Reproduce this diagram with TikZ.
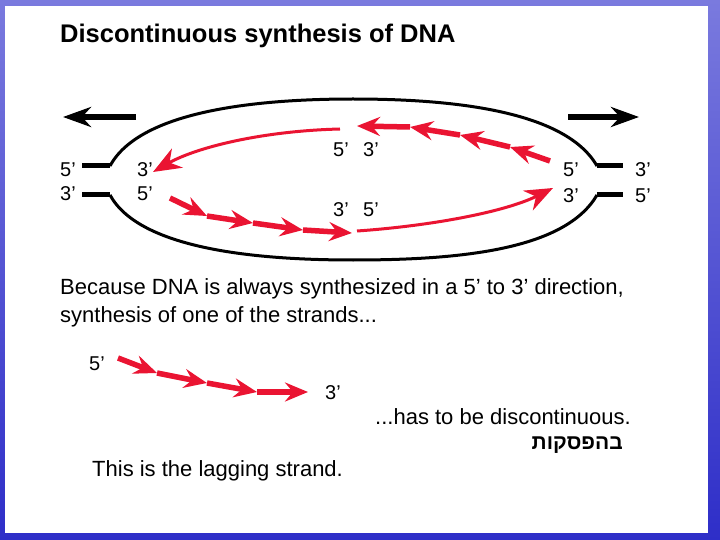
\documentclass[tikz,border=0pt]{standalone}
\usepackage{fontspec}
\setmainfont{Liberation Sans}
\newfontfamily\hebfont[Script=Hebrew]{Liberation Sans}
\TeXXeTstate=1
\usetikzlibrary{arrows.meta}
\definecolor{dnared}{RGB}{234,20,50}
\definecolor{frametop}{RGB}{122,122,222}
\definecolor{framebot}{RGB}{46,46,200}
\begin{document}
\begin{tikzpicture}[x=1pt,y=-1pt,
  lbl/.style={anchor=base west,inner sep=0pt,font=\fontsize{20}{24}\selectfont},
  txt/.style={anchor=base west,inner sep=0pt,font=\fontsize{22}{26}\selectfont},
  strand/.style={line width=3pt,black},
  stub/.style={line width=5pt,black},
  fork/.style={line width=6.5pt,black,-{Stealth[length=28pt,width=20pt,inset=9pt]}},
  frag/.style={line width=5.5pt,dnared,-{Stealth[length=23pt,width=19pt,inset=8pt]}},
  lead/.style={line width=3pt,dnared,-{Stealth[length=28pt,width=22pt,inset=9pt]}},
]
\shade[top color=frametop,bottom color=framebot] (0,0) rectangle (720,540);
\fill[white] (5,6) rectangle (708,533);
\useasboundingbox (0,0) rectangle (720,540);

% title
\node[txt,font=\bfseries\fontsize{25.5}{30}\selectfont] (title) at (60,43) {Discontinuous synthesis of DNA};

% fork directions
\coordinate (la0) at (136,117); \coordinate (la1) at (63,117);
\coordinate (ra0) at (568,117); \coordinate (ra1) at (639,117);
\draw[fork] (la0) -- (la1);
\draw[fork] (ra0) -- (ra1);

% parental strands
\coordinate (L5) at (82,166); \coordinate (Lt) at (110,166);
\coordinate (L3) at (82,195); \coordinate (Lb) at (110,195);
\coordinate (Rt) at (597,166); \coordinate (R3) at (623,166);
\coordinate (Rb) at (597,195); \coordinate (R5) at (623,195);
\coordinate (T) at (353,99); \coordinate (B) at (353,260);
\draw[stub] (L5) -- (Lt);
\draw[stub] (L3) -- (Lb);
\draw[stub] (Rt) -- (R3);
\draw[stub] (Rb) -- (R5);
\draw[strand] (Lt) .. controls (140,110) and (260,99) .. (T) .. controls (450,99) and (565,110) .. (Rt);
\draw[strand] (Lb) .. controls (140,250) and (260,260) .. (B) .. controls (460,260) and (565,250) .. (Rb);

% labels
\node[lbl] (a5) at (60,177) {5’};
\node[lbl] (a3) at (60,201) {3’};
\node[lbl] (b3) at (137,177) {3’};
\node[lbl] (b5) at (137,201) {5’};
\node[lbl] (c5) at (333,157) {5’};
\node[lbl] (c3) at (363,157) {3’};
\node[lbl] (d3) at (333,216) {3’};
\node[lbl] (d5) at (363,216) {5’};
\node[lbl] (e5) at (563,177) {5’};
\node[lbl] (e3) at (563,203) {3’};
\node[lbl] (f3) at (635,177) {3’};
\node[lbl] (f5) at (635,203) {5’};

% leading strands
\coordinate (tl0) at (340,129); \coordinate (tl1) at (153,172);
\draw[lead] (tl0) .. controls (260,131) and (195,148) .. (tl1);
\coordinate (bl0) at (357,231); \coordinate (bl1) at (553,188);
\draw[lead] (bl0) .. controls (430,226) and (505,212) .. (bl1);

% top fragments
\coordinate (p0) at (550,161); \coordinate (p1) at (510,147);
\coordinate (p2) at (460,135); \coordinate (p3) at (410,127);
\coordinate (p4) at (357,126);
\draw[frag] (p0) -- (p1);
\draw[frag] (p1) -- (p2);
\draw[frag] (p2) -- (p3);
\draw[frag] (p3) -- (p4);

% bottom fragments
\coordinate (q0) at (170,198); \coordinate (q1) at (207,216);
\coordinate (q2) at (253,223); \coordinate (q3) at (303,230);
\coordinate (q4) at (352,233);
\draw[frag] (q0) -- (q1);
\draw[frag] (q1) -- (q2);
\draw[frag] (q2) -- (q3);
\draw[frag] (q3) -- (q4);

% texts
\node[txt] (because) at (60,294) {Because DNA is always synthesized in a 5’ to 3’ direction,};
\node[txt] (synth) at (60,322) {synthesis of one of the strands...};

% lagging strand
\node[lbl] (g5) at (89,370) {5’};
\node[lbl] (g3) at (325,399) {3’};
\coordinate (h0) at (118,358); \coordinate (h1) at (157,373);
\coordinate (h2) at (207,383); \coordinate (h3) at (257,392);
\coordinate (h4) at (308,392);
\draw[frag] (h0) -- (h1);
\draw[frag] (h1) -- (h2);
\draw[frag] (h2) -- (h3);
\draw[frag] (h3) -- (h4);

\node[txt] (has) at (375,424) {...has to be discontinuous.};
\node[anchor=base east,inner sep=0pt,font=\hebfont\bfseries\fontsize{21}{26}\selectfont] (heb) at (623,449) {\beginR בהפסקות\endR};
\node[txt] (lag) at (92,476) {This is the lagging strand.};
\end{tikzpicture}
\end{document}
